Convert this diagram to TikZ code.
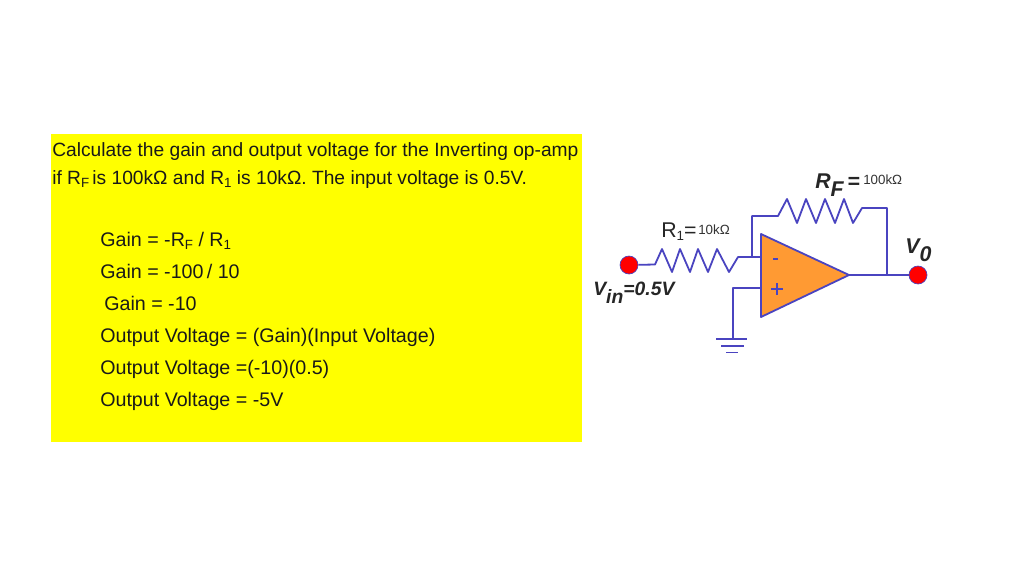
\documentclass[tikz,border=0pt]{standalone}
\usepackage{fontspec}
\setmainfont{Liberation Sans}
\definecolor{wire}{HTML}{4A44C0}
\definecolor{amp}{HTML}{FF9A33}
\definecolor{panel}{RGB}{255,255,0}
\definecolor{dotred}{RGB}{255,0,0}
\tikzset{
  txt/.style={anchor=base west,inner sep=0pt,font=\fontsize{14.4pt}{17pt}\selectfont,text=black!90},
  txtb/.style={txt,font=\fontsize{14.75pt}{17pt}\selectfont},
  wireline/.style={draw=wire,line width=1.35pt,line join=round},
  dotnode/.style={circle,fill=dotred,draw=wire,line width=0.5pt,minimum size=13.5pt,inner sep=0pt},
  lbl/.style={inner sep=0pt,anchor=base west,font=\fontsize{14.5pt}{18pt}\selectfont\bfseries\itshape,text=black!85},
  lblb/.style={lbl,font=\fontsize{16pt}{18pt}\selectfont\bfseries\itshape},
  val/.style={inner sep=0pt,anchor=base west,font=\fontsize{10pt}{12pt}\selectfont,text=black!80}
}
\newcommand{\subs}[1]{\raisebox{-2.6pt}{\fontsize{10pt}{12pt}\selectfont #1}}
\newcommand{\drop}[1]{\raisebox{-6.5pt}{#1}}
\begin{document}
\begin{tikzpicture}[x=0.75pt,y=-0.75pt]
\useasboundingbox (0,0) rectangle (1024,576);
\fill[panel] (51,134) rectangle (582,442);
\node[txt] (t1) at (52,156) {Calculate the gain and output voltage for the Inverting op-amp};
\node[txt] (t2) at (52,184) {if R\subs{F}\,is 100kΩ and R\subs{1} is 10kΩ. The input voltage is 0.5V.};
\node[txtb] (t3) at (100,246) {Gain = -R\subs{F} / R\subs{1}};
\node[txtb] (t4) at (100,278) {Gain = -100\,/ 10};
\node[txtb] (t5) at (104,310) {Gain = -10};
\node[txtb] (t6) at (100,342) {Output Voltage = (Gain)(Input Voltage)};
\node[txtb] (t7) at (100,374) {Output Voltage =(-10)(0.5)};
\node[txtb] (t8) at (100,406) {Output Voltage = -5V};
% circuit
\coordinate (sum) at (752,257);
\coordinate (minus) at (761,257);
\coordinate (plus) at (761,288);
\coordinate (out) at (849,275);
\coordinate (fb) at (887,275);
\coordinate (gnd) at (733,339);
\node[dotnode] (vin) at (629,265) {};
\node[dotnode] (vout) at (918,275) {};
\draw[wireline] (vin) -- (655,264.5) -- (662,249) -- (672,272) -- (680,249) -- (690,272) -- (698,249) -- (708,272) -- (717,249) -- (729,272) -- (738,257) -- (minus);
\draw[wireline] (sum) -- (752,216) -- (778,216) -- (787,199) -- (797,223) -- (806,199) -- (816,223) -- (825,199) -- (835,223) -- (844,199) -- (853,223) -- (862,208) -- (887,208) -- (fb);
\draw[wireline] (out) -- (vout);
\draw[wireline] (plus) -- (733,288) -- (gnd);
\draw[wireline,fill=amp] (761,234) -- (761,317) -- (out) -- cycle;
\draw[wireline] (716,339) -- (747,339);
\draw[wireline] (721,346) -- (744,346);
\draw[wireline] (726,352.5) -- (738,352.5);
\draw[wireline] (773,259) -- (778,259);
\draw[wireline] (771,289) -- (783,289) (777,283) -- (777,295);
% labels
\node[lblb] (rf) at (815,188) {R\drop{F}\,=};
\node[val] (rfv) at (863,184) {100kΩ};
\node[inner sep=0pt,anchor=base west,font=\fontsize{16pt}{18pt}\selectfont,text=black!85] (r1) at (661,237) {R\subs{1}=};
\node[val] (r1v) at (698,234) {10kΩ};
\node[lbl] (vi) at (593,295) {V\drop{in}=0.5V};
\node[lblb] (vo) at (905,253) {V\drop{0}};
\end{tikzpicture}
\end{document}
